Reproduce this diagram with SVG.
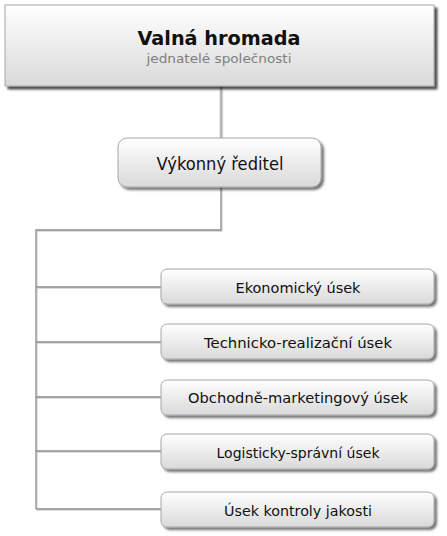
<svg xmlns="http://www.w3.org/2000/svg" width="447" height="536" viewBox="0 0 447 536">
<defs>
<linearGradient id="g" x1="0" y1="0" x2="0" y2="1">
<stop offset="0" stop-color="#ffffff"/>
<stop offset="1" stop-color="#d9d9d9"/>
</linearGradient>
<filter id="sh" x="-10%" y="-20%" width="130%" height="160%">
<feDropShadow dx="2.5" dy="2.5" stdDeviation="1.2" flood-color="#000" flood-opacity="0.55"/>
</filter>
<filter id="shTop" x="-10%" y="-20%" width="130%" height="160%">
<feDropShadow dx="3" dy="3" stdDeviation="1.3" flood-color="#000" flood-opacity="0.7"/>
</filter>
<filter id="lsh" x="-10%" y="-10%" width="130%" height="130%">
<feDropShadow dx="1" dy="1" stdDeviation="0.4" flood-color="#000" flood-opacity="0.18"/>
</filter>
</defs>
<style>
.box{fill:url(#g);stroke:#a6a6a6;stroke-width:1;}
.t{font-family:"DejaVu Sans","Liberation Sans",sans-serif;fill:#111;text-anchor:middle;}
.c{font-size:14px;}
.conn{fill:none;stroke:#8c8c8c;stroke-width:1.3;}
</style>
<rect width="447" height="536" fill="#ffffff"/>
<g id="connectors" filter="url(#lsh)">
<path d="M221 86 V138" fill="none" stroke="#b4b4b4" stroke-width="2.5"/>
<path class="conn" d="M221 187 V230 H36 V509"/>
<path class="conn" d="M36 287 H161"/>
<path class="conn" d="M36 342 H161"/>
<path class="conn" d="M36 397 H161"/>
<path class="conn" d="M36 451 H161"/>
<path class="conn" d="M36 509 H161"/>
</g>
<g id="valna-hromada">
<rect class="box" x="5" y="5" width="429" height="81" filter="url(#shTop)" stroke="#c8c8c8"/>
<text class="t" x="219" y="45" font-size="19" font-weight="bold" textLength="163" lengthAdjust="spacingAndGlyphs">Valná hromada</text>
<text class="t" x="219" y="63" font-size="12" style="fill:#7f7f7f" textLength="145" lengthAdjust="spacingAndGlyphs">jednatelé společnosti</text>
</g>
<g id="vykonny-reditel">
<rect class="box" x="118" y="138" width="203" height="49" rx="9" filter="url(#sh)"/>
<text class="t" x="220" y="170" font-size="17" textLength="127" lengthAdjust="spacingAndGlyphs">Výkonný ředitel</text>
</g>
<g id="ekonomicky">
<rect class="box" x="161" y="269" width="273" height="35" rx="6" filter="url(#sh)"/>
<text class="t c" x="298" y="292.5" textLength="125" lengthAdjust="spacingAndGlyphs">Ekonomický úsek</text>
</g>
<g id="technicko">
<rect class="box" x="161" y="324" width="273" height="35" rx="6" filter="url(#sh)"/>
<text class="t c" x="298" y="347.5" textLength="188" lengthAdjust="spacingAndGlyphs">Technicko-realizační úsek</text>
</g>
<g id="obchodne">
<rect class="box" x="161" y="380" width="273" height="35" rx="6" filter="url(#sh)"/>
<text class="t c" x="298" y="403" textLength="220" lengthAdjust="spacingAndGlyphs">Obchodně-marketingový úsek</text>
</g>
<g id="logisticky">
<rect class="box" x="161" y="434" width="273" height="35" rx="6" filter="url(#sh)"/>
<text class="t c" x="298" y="457.5" textLength="163" lengthAdjust="spacingAndGlyphs">Logisticky-správní úsek</text>
</g>
<g id="kontrola">
<rect class="box" x="161" y="492" width="273" height="35" rx="6" filter="url(#sh)"/>
<text class="t c" x="298" y="515.5" textLength="148" lengthAdjust="spacingAndGlyphs">Úsek kontroly jakosti</text>
</g>
</svg>
